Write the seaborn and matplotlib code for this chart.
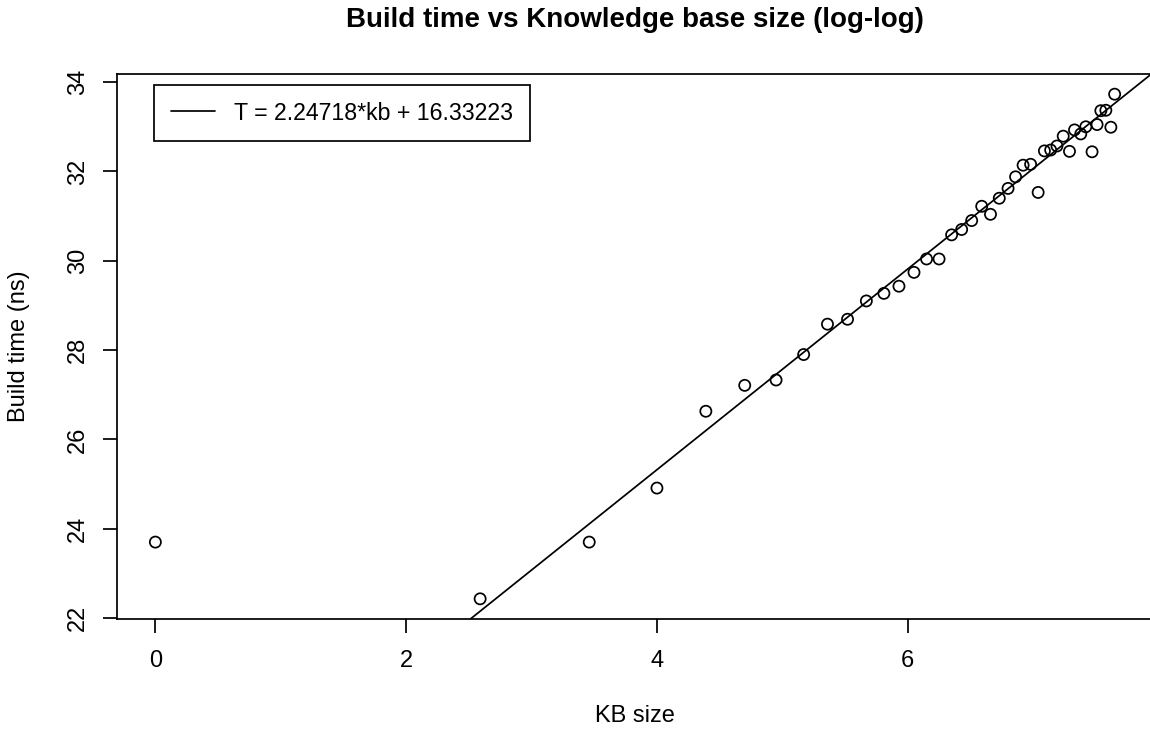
import numpy as np
import pandas as pd
import seaborn as sns
import matplotlib
matplotlib.use("Agg")
import matplotlib.pyplot as plt

# values (log-log space)
kb_size = [0.00, 2.59, 3.46, 4.00, 4.39, 4.70, 4.95, 5.17, 5.36, 5.52,
           5.67, 5.81, 5.93, 6.05, 6.15, 6.25, 6.35, 6.43, 6.51, 6.59,
           6.66, 6.73, 6.80, 6.86, 6.92, 6.98, 7.04, 7.09, 7.14, 7.19,
           7.24, 7.29, 7.33, 7.38, 7.42, 7.47, 7.51, 7.54, 7.58, 7.62, 7.65]
build_time = [23.70, 22.43, 23.70, 24.91, 26.63, 27.21, 27.33, 27.90, 28.58, 28.69,
              29.10, 29.27, 29.43, 29.74, 30.04, 30.04, 30.58, 30.70, 30.90, 31.22,
              31.04, 31.40, 31.62, 31.88, 32.14, 32.16, 31.53, 32.46, 32.48, 32.57,
              32.79, 32.45, 32.93, 32.84, 33.00, 32.44, 33.05, 33.36, 33.37, 32.99, 33.73]
slope = 2.24718
intercept = 16.33223
x_ticks = [0, 2, 4, 6]
y_ticks = [22, 24, 26, 28, 30, 32, 34]

df = pd.DataFrame({"kb": kb_size, "T": build_time})

sns.set_style("ticks")
plt.rcParams["font.family"] = ["Liberation Sans", "DejaVu Sans"]
plt.rcParams["text.color"] = "black"
plt.rcParams["axes.labelcolor"] = "black"
plt.rcParams["xtick.color"] = "black"
plt.rcParams["ytick.color"] = "black"

fig = plt.figure(figsize=(11.5, 7.31), dpi=100)
W, H = 1150, 731
ax = fig.add_axes([117 / W, (H - 619) / H, 1036 / W, 545 / H])

sns.scatterplot(data=df, x="kb", y="T", ax=ax, marker="o", s=64,
                facecolor="none", edgecolor="black", linewidth=1.25, legend=False)
fit_line = ax.axline((0, intercept), slope=slope, color="black", linewidth=1.25,
                     label="T = %.5f*kb + %.5f" % (slope, intercept))

# R-style 4% padding around the data
def padded(v):
    lo, hi = min(v), max(v)
    p = (hi - lo) * 0.04
    return lo - p, hi + p

ax.set_xlim(*padded(kb_size))
ax.set_ylim(*padded(build_time))
ax.set_xticks(x_ticks)
ax.set_yticks(y_ticks)
ax.tick_params(axis="both", direction="out", length=10, width=1.25, labelsize=17)
ax.tick_params(axis="x", pad=12)
ax.tick_params(axis="y", pad=10)
plt.setp(ax.get_yticklabels(), rotation=90, va="center")
for s in ax.spines.values():
    s.set_visible(True)
    s.set_linewidth(1.25)
    s.set_color("black")

ax.set_xlabel("KB size", fontsize=17)
ax.set_ylabel("Build time (ns)", fontsize=17)
ax.xaxis.set_label_coords(0.5, -0.158)
ax.yaxis.set_label_coords(-0.084, 0.5)

fig.text(635 / W, 1 - 20 / H, "Build time vs Knowledge base size (log-log)",
         fontsize=20, fontweight="bold", ha="center", va="center")

leg = ax.legend(handles=[fit_line], loc="upper left", bbox_to_anchor=(0.0357, 0.98),
                borderaxespad=0, fontsize=16.7,
                handlelength=1.9, handletextpad=0.85, borderpad=0.72,
                fancybox=False, framealpha=1)
leg.get_frame().set_edgecolor("black")
leg.get_frame().set_linewidth(1.25)

fig.savefig("out.png", dpi=100)
